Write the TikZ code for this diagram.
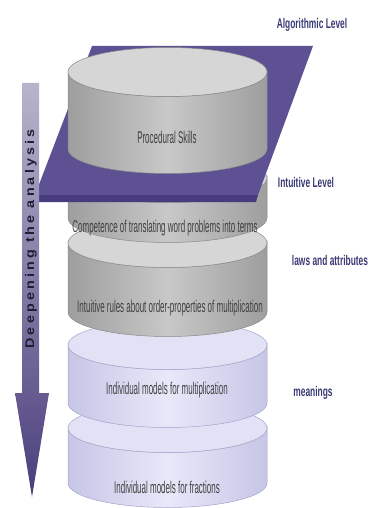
\documentclass[tikz,border=0pt]{standalone}
\usepackage{fontspec}
\setmainfont{Liberation Sans}
\newfontfamily\cylfont{Liberation Sans}[FakeStretch=0.47]
\newfontfamily\labfont{Liberation Sans}[FakeStretch=0.6]
\newfontfamily\arrfont{Liberation Sans}[FakeStretch=1.15, LetterSpace=25]
\definecolor{gside}{HTML}{9E9E9E}
\definecolor{gmid}{HTML}{C8C8C8}
\definecolor{gtop}{HTML}{D6D6D6}
\definecolor{gline}{HTML}{8A8A8A}
\definecolor{pside}{HTML}{C6C6E6}
\definecolor{pmid}{HTML}{E8E8FA}
\definecolor{ptop}{HTML}{E2E2F6}
\definecolor{pline}{HTML}{A4A4CA}
\definecolor{plane}{HTML}{5D5193}
\definecolor{planeedge}{HTML}{483C7E}
\definecolor{arrtop}{HTML}{B8B4CC}
\definecolor{arrbot}{HTML}{4A3E7C}
\definecolor{cyltext}{HTML}{404040}
\definecolor{labtext}{HTML}{3A3A76}
\definecolor{arrtext}{HTML}{1E1E34}
\newcommand\drawcyl[6]{%
  % #1 top y, #2 bottom y, #3 edge col, #4 mid col, #5 top col, #6 line col
  \shade[left color=#3, right color=#3, middle color=#4, draw=#6, line width=0.5pt]
    (68,#1) -- (68,#2) arc[start angle=180, end angle=360, x radius=99.5pt, y radius=24.5pt]
    -- (267,#1) arc[start angle=0, end angle=-180, x radius=99.5pt, y radius=24.5pt] -- cycle;
  \filldraw[fill=#5, draw=#6, line width=0.5pt] (167.5,#1) ellipse[x radius=99.5pt, y radius=24.5pt];
}
\tikzset{
  cyltxt/.style={font=\cylfont\fontsize{17}{17}\selectfont, text=cyltext, inner sep=0pt},
  labtxt/.style={font=\labfont\bfseries\fontsize{14}{14}\selectfont, text=labtext, inner sep=0pt},
}
\begin{document}
\begin{tikzpicture}[x=1pt,y=-1pt]
\useasboundingbox (0,0) rectangle (368,508);
% lower cylinders, bottom first
\drawcyl{428}{483}{pside}{pmid}{ptop}{pline}
\drawcyl{345}{403}{pside}{pmid}{ptop}{pline}
\drawcyl{243}{312}{gside}{gmid}{gtop}{gline}
\drawcyl{178}{218}{gside}{gmid}{gtop}{gline}
% plane
\fill[plane] (92,46) -- (313,46) -- (258,195) -- (35,195) -- cycle;
\fill[planeedge] (35,195) -- (258,195) -- (256,202) -- (35,202) -- cycle;
% top cylinder
\drawcyl{72}{149}{gside}{gmid}{gtop}{gline}
% arrow
\shade[top color=arrtop, bottom color=arrbot]
  (22,83) -- (39,83) -- (39,393) -- (49,393) -- (32,497) -- (15,393) -- (22,393) -- cycle;
\node[rotate=90, font=\arrfont\bfseries\fontsize{12.5}{12.5}\selectfont, text=arrtext, inner sep=0pt] (deep) at (31,239) {Deepening the analysis};
% cylinder texts
\node[cyltxt] (proc) at (167,137) {Procedural Skills};
\node[cyltxt] (comp) at (165,228) {Competence of translating word problems into terms};
\node[cyltxt] (rules) at (170,308) {Intuitive rules about order-properties of multiplication};
\node[cyltxt] (mult) at (167,390) {Individual models for multiplication};
\node[cyltxt] (frac) at (167,487) {Individual models for fractions};
% right labels
\node[labtxt] (alg) at (312,25) {Algorithmic Level};
\node[labtxt] (intu) at (306,182) {Intuitive Level};
\node[labtxt] (laws) at (330,260) {laws and attributes};
\node[labtxt] (mean) at (313,393) {meanings};
\end{tikzpicture}
\end{document}
